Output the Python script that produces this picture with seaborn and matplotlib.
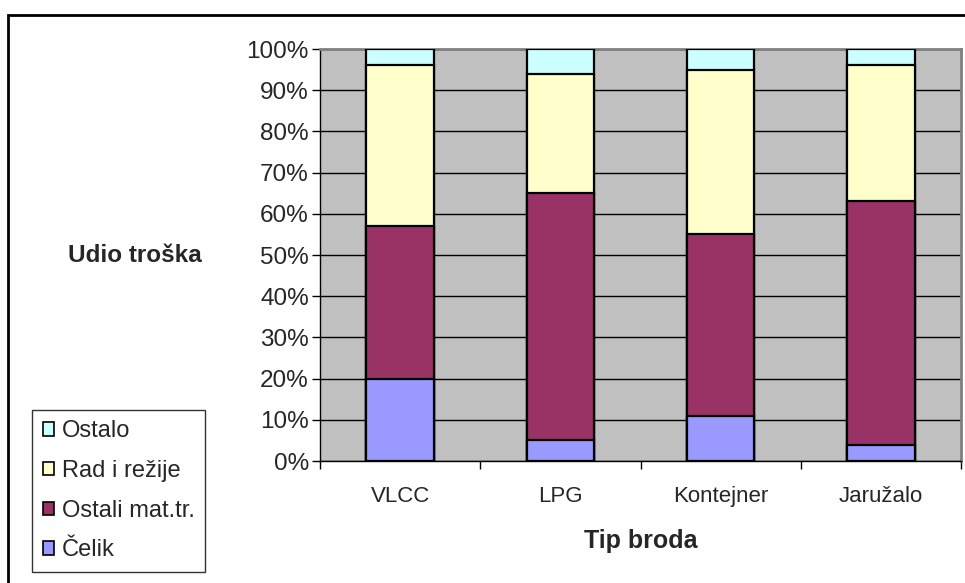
import numpy as np
import pandas as pd

import matplotlib.pyplot as plt
import matplotlib.patches as mpatches
from matplotlib.ticker import FixedLocator, PercentFormatter
import seaborn as sns

sns.set_style("white")
plt.rcParams["font.family"] = ["Liberation Sans", "DejaVu Sans"]

# %%
brodovi = ["VLCC", "LPG", "Kontejner", "Jaružalo"]
celik = [20, 5, 11, 4]
ostali_mat = [37, 60, 44, 59]
rad_rezije = [39, 29, 40, 33]
ostalo = [4, 6, 5, 4]

serije = ["Čelik", "Ostali mat.tr.", "Rad i režije", "Ostalo"]
boje = ["#9999FF", "#993366", "#FFFFCC", "#CCFFFF"]

# %%
df = pd.DataFrame({"Čelik": celik, "Ostali mat.tr.": ostali_mat,
                   "Rad i režije": rad_rezije, "Ostalo": ostalo}, index=brodovi)
df_cum = df[serije].cumsum(axis=1)

# %%
fig = plt.figure(figsize=(9.65, 5.83), dpi=100)
ax = fig.add_axes([320 / 965, 1 - 461 / 583, 641 / 965, 412 / 583])
ax.set_facecolor("#C0C0C0")
ax.set_axisbelow(True)
ax.yaxis.grid(True, color="black", linewidth=1)

# draw from the top of the stack down so each lower layer covers the one above
for s, c in zip(reversed(serije), reversed(boje)):
    d = df_cum[s].reset_index()
    d.columns = ["brod", "v"]
    sns.barplot(data=d, x="brod", y="v", color=c, width=0.42, ax=ax,
                edgecolor="black", linewidth=1.6, saturation=1, zorder=3)

ax.set_ylim(0, 100)
ax.set_xlim(-0.5, 3.5)
ax.yaxis.set_major_locator(FixedLocator(np.arange(0, 101, 10)))
ax.yaxis.set_major_formatter(PercentFormatter(decimals=0))
ax.tick_params(axis="y", labelsize=17.5, length=6, width=1, color="black",
               direction="out", left=True, pad=2)
ax.tick_params(axis="x", labelsize=16, length=0, pad=18)
ax.xaxis.set_minor_locator(FixedLocator([-0.5, 0.5, 1.5, 2.5, 3.5]))
ax.tick_params(axis="x", which="minor", length=6, width=1, color="black",
               direction="out", bottom=True)

ax.set_xlabel("Tip broda", fontsize=18, fontweight="bold", labelpad=16)
ax.set_ylabel("")
fig.text(135 / 965, 1 - 255 / 583, "Udio troška", fontsize=17.5,
         fontweight="bold", ha="center", va="center")

for side in ["left", "bottom"]:
    ax.spines[side].set_color("black")
    ax.spines[side].set_linewidth(1)
for side in ["top", "right"]:
    ax.spines[side].set_color("#808080")
    ax.spines[side].set_linewidth(2)

handles = [mpatches.Patch(facecolor=c, edgecolor="black", linewidth=1.2, label=s)
           for s, c in zip(reversed(serije), reversed(boje))]
leg = fig.legend(handles=handles, loc="lower left",
                 bbox_to_anchor=(32 / 965, 1 - 572 / 583), fontsize=17,
                 frameon=True, fancybox=False, edgecolor="black",
                 handlelength=0.5, handleheight=0.5, handletextpad=0.3,
                 labelspacing=0.75, borderpad=0.45, borderaxespad=0)
leg.get_frame().set_linewidth(1)

# outer chart border
fig.patches.append(mpatches.Rectangle((8 / 965, -0.05), 1.0, 1 - 15 / 583 + 0.05,
                                      transform=fig.transFigure, fill=False,
                                      edgecolor="black", linewidth=2))

fig.savefig("out.png", dpi=100)
